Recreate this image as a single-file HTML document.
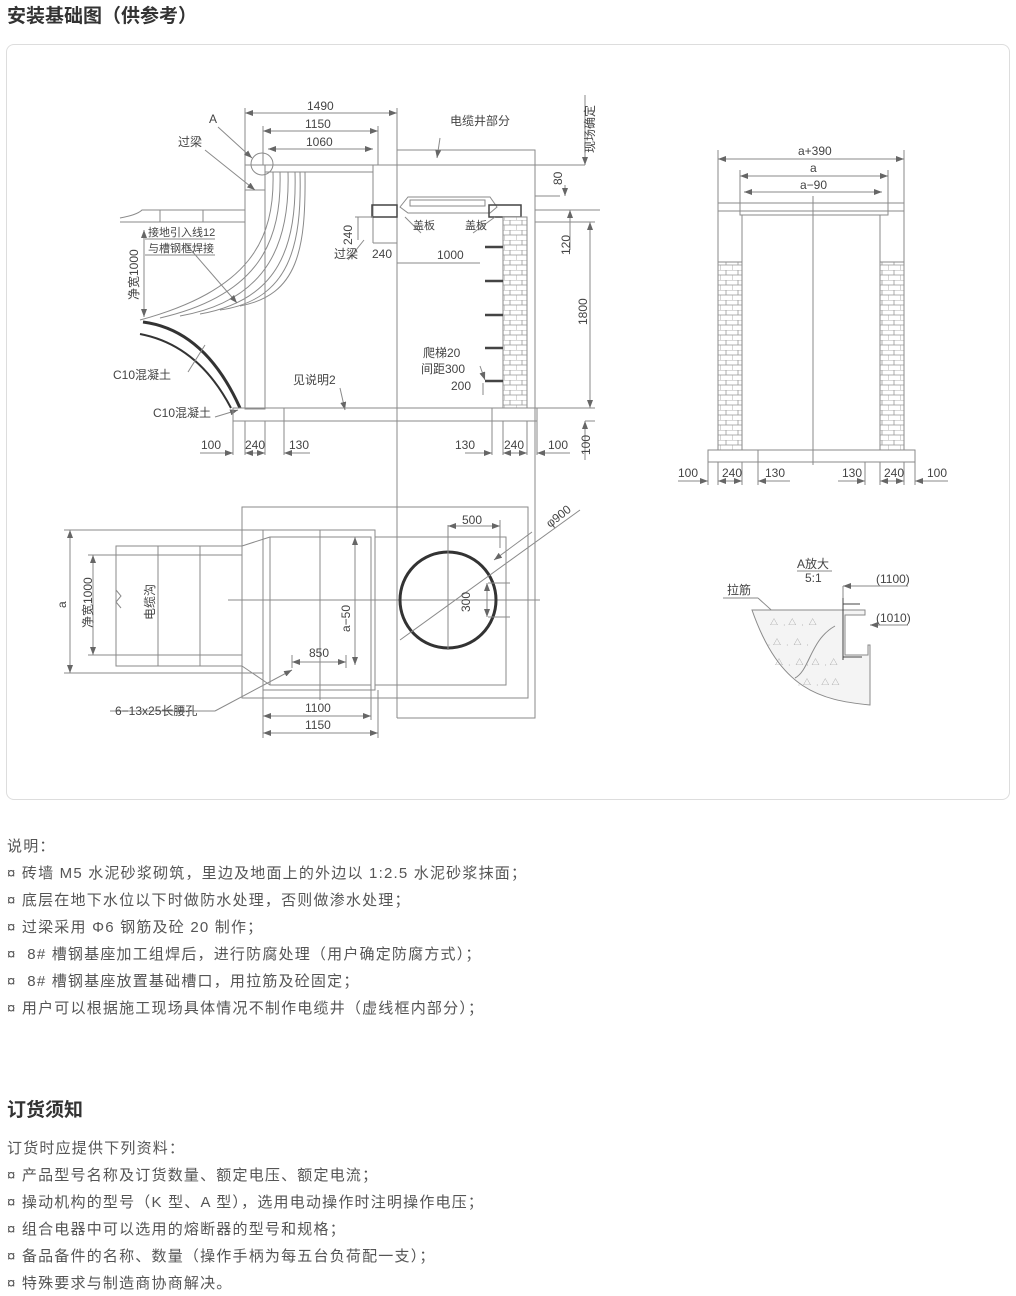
<!DOCTYPE html>
<html><head><meta charset="utf-8">
<style>
html,body{margin:0;padding:0;background:#fff;}
body{width:1016px;height:1296px;position:relative;overflow:hidden;font-family:"Liberation Sans","Noto Sans CJK SC",sans-serif;color:#555;}
.h{position:absolute;left:7px;font-size:19px;font-weight:bold;color:#333;}
.card{position:absolute;left:6px;top:44px;width:1002px;height:754px;border:1px solid #ddd;border-radius:8px;}
.t{position:absolute;left:7px;font-size:15px;letter-spacing:1.2px;color:#555;white-space:nowrap;}
svg{position:absolute;left:0;top:0;}
svg text{font-family:"Liberation Sans","Noto Sans CJK SC",sans-serif;font-size:12px;fill:#444;}
</style></head><body>
<div class="h" style="top:1px">安装基础图（供参考）</div>
<div class="card"></div>
<svg width="1016" height="800" viewBox="0 0 1016 800">
<defs>
<pattern id="brick" width="12" height="10" patternUnits="userSpaceOnUse">
<rect width="12" height="10" fill="#fff"/>
<path d="M0 0H12M0 5H12M6 0V5M0 5V10" stroke="#999" stroke-width="0.8" fill="none"/>
</pattern>
<marker id="ar" markerWidth="8" markerHeight="6" refX="8" refY="3" orient="auto"><path d="M0,0 L8,3 L0,6z" fill="#666"/></marker>
<marker id="al" markerWidth="8" markerHeight="6" refX="0" refY="3" orient="auto"><path d="M8,0 L0,3 L8,6z" fill="#666"/></marker>
</defs>
<g stroke="#8a8a8a" stroke-width="1" fill="none">
<line x1="245" y1="113" x2="397" y2="113" marker-start="url(#al)" marker-end="url(#ar)"/>
<line x1="263" y1="131" x2="378" y2="131" marker-start="url(#al)" marker-end="url(#ar)"/>
<line x1="268" y1="149" x2="373" y2="149" marker-start="url(#al)" marker-end="url(#ar)"/>
<line x1="245" y1="108" x2="245" y2="165"/><line x1="397" y1="108" x2="397" y2="150"/>
<line x1="263" y1="126" x2="263" y2="165"/><line x1="378" y1="126" x2="378" y2="165"/>
<line x1="245" y1="165" x2="585" y2="165"/>
<rect x="265" y="165" width="108" height="7"/>
<rect x="245" y="165" width="20" height="244"/>
<line x1="245" y1="190" x2="265" y2="190"/>
<line x1="373" y1="172" x2="373" y2="243"/>
<line x1="397" y1="150" x2="397" y2="718"/>
<circle cx="262" cy="164" r="11"/>
<polyline points="397,150 535,150 535,718 397,718"/>
<line x1="585" y1="95" x2="585" y2="165" marker-end="url(#ar)"/>
<line x1="535" y1="196" x2="560" y2="196"/>
<line x1="565" y1="185" x2="565" y2="196" marker-end="url(#ar)"/>
<line x1="535" y1="210" x2="600" y2="210"/>
<line x1="570" y1="250" x2="570" y2="210" marker-end="url(#ar)"/>
<line x1="590" y1="222" x2="590" y2="408" marker-start="url(#al)" marker-end="url(#ar)"/>
<line x1="535" y1="222" x2="595" y2="222"/>
<line x1="535" y1="408" x2="595" y2="408"/>
<line x1="585" y1="421" x2="595" y2="421"/>
<line x1="585" y1="460" x2="585" y2="421" marker-end="url(#ar)"/>
<path d="M120 218 C130 216 138 214 142 210 L245 210"/>
<line x1="160" y1="210" x2="160" y2="222"/><line x1="203" y1="210" x2="203" y2="222"/>
<line x1="120" y1="222" x2="245" y2="222"/>
<line x1="144" y1="230" x2="144" y2="317" marker-start="url(#al)" marker-end="url(#ar)"/>
<path d="M273 172 C275 240 250 290 140 320"/>
<path d="M280 172 C282 240 260 295 160 318"/>
<path d="M288 172 C290 240 270 300 180 316"/>
<path d="M295 172 C297 245 280 300 200 314"/>
<path d="M300 172 C302 245 290 300 220 310"/>
<path d="M305 172 C306 250 298 295 240 306"/>
<line x1="185" y1="243" x2="237" y2="303" marker-end="url(#ar)"/>
<line x1="145" y1="239" x2="215" y2="239"/><line x1="145" y1="255" x2="215" y2="255"/>
<line x1="218" y1="127" x2="252" y2="158" marker-end="url(#ar)"/>
<line x1="205" y1="150" x2="255" y2="190" marker-end="url(#ar)"/>
<line x1="440" y1="138" x2="437" y2="158" marker-end="url(#ar)"/>
<path d="M400 207 L408 197 L490 197 L497 207 L490 213 L408 213 Z"/>
<rect x="410" y="200" width="75" height="6"/>
<rect x="372" y="205" width="25" height="12" stroke="#444" stroke-width="1.5"/>
<rect x="489" y="205" width="32" height="12" stroke="#444" stroke-width="1.5"/>
<line x1="421" y1="233" x2="405" y2="217"/>
<line x1="473" y1="233" x2="495" y2="217"/>
<line x1="358" y1="217" x2="358" y2="240"/><line x1="355" y1="217" x2="373" y2="217"/>
<line x1="364" y1="240" x2="348" y2="260"/>
<line x1="373" y1="243" x2="397" y2="243"/>
<line x1="397" y1="263" x2="480" y2="263"/>
<rect x="503" y="217" width="24" height="191" fill="url(#brick)"/>
<g stroke="#444" stroke-width="2.5">
<line x1="485" y1="247" x2="503" y2="247"/><line x1="485" y1="281" x2="503" y2="281"/>
<line x1="485" y1="315" x2="503" y2="315"/><line x1="485" y1="348" x2="503" y2="348"/>
<line x1="485" y1="381" x2="503" y2="381"/>
</g>
<line x1="480" y1="366" x2="485" y2="380" marker-end="url(#ar)"/>
<line x1="483" y1="383" x2="483" y2="395"/>
<path d="M143 322 Q205 330 240 408" stroke="#333" stroke-width="3"/>
<path d="M140 334 Q198 345 231 408" stroke="#333" stroke-width="2"/>
<line x1="188" y1="372" x2="205" y2="345"/>
<line x1="215" y1="417" x2="238" y2="410" marker-end="url(#ar)"/>
<line x1="340" y1="388" x2="345" y2="410" marker-end="url(#ar)"/>
<rect x="233" y="408" width="304" height="13"/>
<line x1="284" y1="408" x2="284" y2="421"/>
<line x1="492" y1="408" x2="492" y2="421"/>
<g>
<line x1="233" y1="421" x2="233" y2="455"/><line x1="245" y1="421" x2="245" y2="455"/><line x1="265" y1="421" x2="265" y2="455"/><line x1="284" y1="421" x2="284" y2="455"/>
<line x1="492" y1="421" x2="492" y2="455"/><line x1="503" y1="421" x2="503" y2="455"/><line x1="527" y1="421" x2="527" y2="455"/><line x1="537" y1="421" x2="537" y2="455"/>
<line x1="200" y1="453" x2="233" y2="453" marker-end="url(#ar)"/>
<line x1="245" y1="453" x2="265" y2="453" marker-start="url(#al)" marker-end="url(#ar)"/>
<line x1="284" y1="453" x2="310" y2="453" marker-start="url(#al)"/>
<line x1="465" y1="453" x2="492" y2="453" marker-end="url(#ar)"/>
<line x1="503" y1="453" x2="527" y2="453" marker-start="url(#al)" marker-end="url(#ar)"/>
<line x1="537" y1="453" x2="570" y2="453" marker-start="url(#al)"/>
</g>
<rect x="242" y="507" width="286" height="191"/>
<rect x="263" y="530" width="112" height="160"/>
<rect x="270" y="537" width="101" height="148"/>
<rect x="375" y="537" width="131" height="148"/>
<line x1="242" y1="546" x2="270" y2="537"/><line x1="242" y1="666" x2="270" y2="685"/>
<rect x="116" y="546" width="126" height="120"/>
<line x1="116" y1="555" x2="242" y2="555"/><line x1="116" y1="655" x2="242" y2="655"/>
<line x1="158" y1="546" x2="158" y2="666"/><line x1="200" y1="546" x2="200" y2="666"/>
<path d="M116 590 l5 6 -5 6 l5 6"/>
<line x1="64" y1="530" x2="263" y2="530"/><line x1="64" y1="673" x2="263" y2="673"/>
<line x1="70" y1="530" x2="70" y2="673" marker-start="url(#al)" marker-end="url(#ar)"/>
<line x1="88" y1="555" x2="116" y2="555"/><line x1="88" y1="655" x2="116" y2="655"/>
<line x1="93" y1="555" x2="93" y2="655" marker-start="url(#al)" marker-end="url(#ar)"/>
<line x1="228" y1="600" x2="540" y2="600"/>
<line x1="320" y1="530" x2="320" y2="700"/>
<line x1="355" y1="537" x2="355" y2="665" marker-start="url(#al)" marker-end="url(#ar)"/>
<line x1="292" y1="662" x2="346" y2="662" marker-start="url(#al)" marker-end="url(#ar)"/>
<line x1="292" y1="655" x2="292" y2="668"/><line x1="346" y1="655" x2="346" y2="668"/>
<line x1="263" y1="690" x2="263" y2="738"/><line x1="371" y1="685" x2="371" y2="720"/><line x1="378" y1="690" x2="378" y2="738"/>
<line x1="263" y1="716" x2="371" y2="716" marker-start="url(#al)" marker-end="url(#ar)"/>
<line x1="263" y1="733" x2="378" y2="733" marker-start="url(#al)" marker-end="url(#ar)"/>
<line x1="215" y1="711" x2="292" y2="670" marker-end="url(#ar)"/>
<line x1="110" y1="711" x2="215" y2="711"/>
<circle cx="448" cy="600" r="48" stroke="#333" stroke-width="3"/>
<line x1="448" y1="525" x2="448" y2="650"/>
<line x1="448" y1="526" x2="500" y2="526" marker-start="url(#al)" marker-end="url(#ar)"/>
<line x1="500" y1="520" x2="500" y2="548"/>
<line x1="400" y1="640" x2="580" y2="510"/>
<line x1="532" y1="532" x2="494" y2="560" marker-end="url(#ar)"/>
<line x1="488" y1="583" x2="510" y2="583"/><line x1="488" y1="617" x2="510" y2="617"/>
<line x1="487" y1="583" x2="487" y2="617" marker-start="url(#al)" marker-end="url(#ar)"/>
<line x1="718" y1="150" x2="718" y2="203"/><line x1="904" y1="150" x2="904" y2="203"/>
<line x1="740" y1="170" x2="740" y2="215"/><line x1="888" y1="170" x2="888" y2="215"/>
<line x1="718" y1="159" x2="904" y2="159" marker-start="url(#al)" marker-end="url(#ar)"/>
<line x1="740" y1="176" x2="888" y2="176" marker-start="url(#al)" marker-end="url(#ar)"/>
<line x1="744" y1="192" x2="882" y2="192" marker-start="url(#al)" marker-end="url(#ar)"/>
<rect x="718" y="203" width="186" height="8"/>
<rect x="740" y="203" width="148" height="12"/>
<line x1="718" y1="211" x2="718" y2="450"/><line x1="742" y1="215" x2="742" y2="450"/>
<line x1="880" y1="215" x2="880" y2="450"/><line x1="904" y1="211" x2="904" y2="450"/>
<rect x="718" y="262" width="24" height="188" fill="url(#brick)"/>
<rect x="880" y="262" width="24" height="188" fill="url(#brick)"/>
<line x1="813" y1="196" x2="813" y2="465"/>
<rect x="708" y="450" width="207" height="12"/>
<line x1="758" y1="450" x2="758" y2="462"/>
<g>
<line x1="708" y1="462" x2="708" y2="485"/><line x1="718" y1="462" x2="718" y2="485"/><line x1="742" y1="462" x2="742" y2="485"/><line x1="758" y1="462" x2="758" y2="485"/>
<line x1="865" y1="462" x2="865" y2="485"/><line x1="880" y1="462" x2="880" y2="485"/><line x1="904" y1="462" x2="904" y2="485"/><line x1="915" y1="462" x2="915" y2="485"/>
<line x1="678" y1="481" x2="708" y2="481" marker-end="url(#ar)"/>
<line x1="718" y1="481" x2="742" y2="481" marker-start="url(#al)" marker-end="url(#ar)"/>
<line x1="758" y1="481" x2="790" y2="481" marker-start="url(#al)"/>
<line x1="838" y1="481" x2="865" y2="481" marker-end="url(#ar)"/>
<line x1="880" y1="481" x2="904" y2="481" marker-start="url(#al)" marker-end="url(#ar)"/>
<line x1="915" y1="481" x2="948" y2="481" marker-start="url(#al)"/>
</g>
<line x1="797" y1="571" x2="832" y2="571"/>
<line x1="723" y1="598" x2="758" y2="598"/>
<line x1="758" y1="598" x2="810" y2="645" marker-end="url(#ar)"/>
<path d="M752 610 L865 610 L865 615 L845 615 L845 655 L868 655 L868 645 L870 645 L870 705 C820 700 780 690 752 610 Z" fill="#f4f4f4"/>
<path d="M843 598 V660 M843 604 H860 M843 657 H862" stroke="#444"/>
<path d="M835 626 C810 640 810 670 795 678"/>
<line x1="908" y1="586" x2="843" y2="586" marker-end="url(#ar)"/>
<line x1="908" y1="625" x2="870" y2="625" marker-end="url(#ar)"/>
<line x1="843" y1="586" x2="843" y2="598"/>
</g>
<g>
<text x="770" y="625" style="font-size:8px;fill:#999">△ ﹒△ ﹒ △</text>
<text x="765" y="645" style="font-size:8px;fill:#999">﹒△ ﹒ △ ﹒</text>
<text x="775" y="665" style="font-size:8px;fill:#999">△ ﹒ △﹒△ ﹒△</text>
<text x="795" y="685" style="font-size:8px;fill:#999">﹒△ ﹒△ △</text>
</g>
<text x="307" y="110">1490</text><text x="305" y="128">1150</text><text x="306" y="146">1060</text>
<text x="209" y="123">A</text><text x="178" y="146">过梁</text>
<text x="450" y="125">电缆井部分</text>
<text x="594" y="153" transform="rotate(-90 594 153)">现场确定</text>
<text x="562" y="185" transform="rotate(-90 562 185)">80</text>
<text x="570" y="255" transform="rotate(-90 570 255)">120</text>
<text x="587" y="325" transform="rotate(-90 587 325)">1800</text>
<text x="590" y="455" transform="rotate(-90 590 455)">100</text>
<text x="352" y="245" transform="rotate(-90 352 245)">240</text>
<text x="413" y="229" style="font-size:11px">盖板</text><text x="465" y="229" style="font-size:11px">盖板</text>
<text x="334" y="258">过梁</text><text x="372" y="258">240</text><text x="437" y="259">1000</text>
<text x="148" y="236" style="font-size:11px">接地引入线12</text><text x="148" y="252" style="font-size:11px">与槽钢框焊接</text>
<text x="138" y="300" transform="rotate(-90 138 300)">净宽1000</text>
<text x="113" y="379">C10混凝土</text><text x="153" y="417">C10混凝土</text>
<text x="293" y="384">见说明2</text>
<text x="423" y="357">爬梯20</text><text x="421" y="373">间距300</text><text x="451" y="390">200</text>
<text x="201" y="449">100</text><text x="245" y="449">240</text><text x="289" y="449">130</text>
<text x="455" y="449">130</text><text x="504" y="449">240</text><text x="548" y="449">100</text>
<text x="462" y="524">500</text>
<text x="550" y="528" transform="rotate(-38 550 528)">φ900</text>
<text x="470" y="612" transform="rotate(-90 470 612)">300</text>
<text x="66" y="608" transform="rotate(-90 66 608)">a</text>
<text x="92" y="628" transform="rotate(-90 92 628)">净宽1000</text>
<text x="154" y="620" transform="rotate(-90 154 620)">电缆沟</text>
<text x="350" y="632" transform="rotate(-90 350 632)">a−50</text>
<text x="309" y="657">850</text><text x="305" y="712">1100</text><text x="305" y="729">1150</text>
<text x="115" y="715">6−13x25长腰孔</text>
<text x="798" y="155">a+390</text><text x="810" y="172">a</text><text x="800" y="189">a−90</text>
<text x="678" y="477">100</text><text x="722" y="477">240</text><text x="765" y="477">130</text>
<text x="842" y="477">130</text><text x="884" y="477">240</text><text x="927" y="477">100</text>
<text x="797" y="568">A放大</text><text x="805" y="582">5:1</text>
<text x="876" y="583">(1100)</text><text x="876" y="622">(1010)</text>
<text x="727" y="594">拉筋</text>
</svg>
<div class="t" style="top:835px">说明：</div>
<div class="t" style="top:862px">¤ 砖墙 M5 水泥砂浆砌筑，里边及地面上的外边以 1:2.5 水泥砂浆抹面；</div>
<div class="t" style="top:889px">¤ 底层在地下水位以下时做防水处理，否则做渗水处理；</div>
<div class="t" style="top:916px">¤ 过梁采用 Φ6 钢筋及砼 20 制作；</div>
<div class="t" style="top:943px">¤ &nbsp;8# 槽钢基座加工组焊后，进行防腐处理（用户确定防腐方式）；</div>
<div class="t" style="top:970px">¤ &nbsp;8# 槽钢基座放置基础槽口，用拉筋及砼固定；</div>
<div class="t" style="top:997px">¤ 用户可以根据施工现场具体情况不制作电缆井（虚线框内部分）；</div>
<div class="h" style="top:1095px">订货须知</div>
<div class="t" style="top:1137px">订货时应提供下列资料：</div>
<div class="t" style="top:1164px">¤ 产品型号名称及订货数量、额定电压、额定电流；</div>
<div class="t" style="top:1191px">¤ 操动机构的型号（K 型、A 型），选用电动操作时注明操作电压；</div>
<div class="t" style="top:1218px">¤ 组合电器中可以选用的熔断器的型号和规格；</div>
<div class="t" style="top:1245px">¤ 备品备件的名称、数量（操作手柄为每五台负荷配一支）；</div>
<div class="t" style="top:1272px">¤ 特殊要求与制造商协商解决。</div>
</body></html>
